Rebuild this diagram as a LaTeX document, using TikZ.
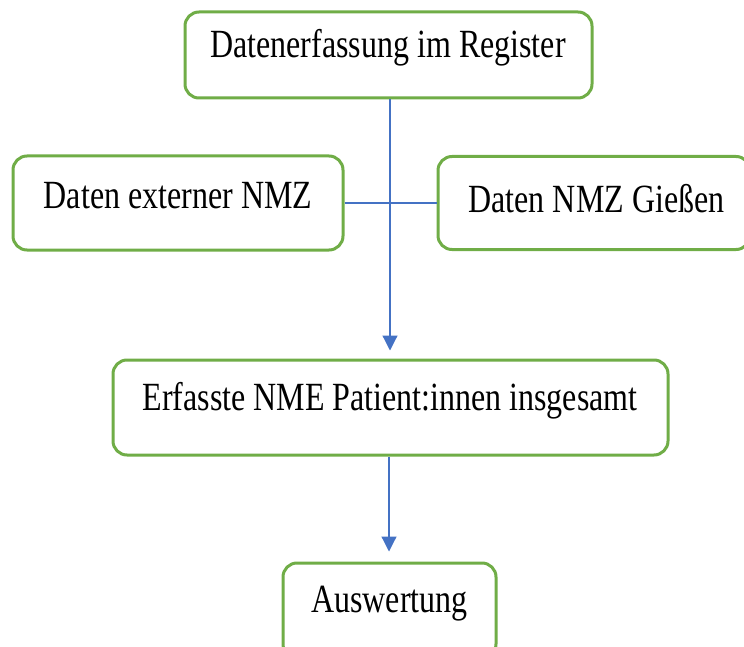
\documentclass[tikz,border=0pt]{standalone}
\usepackage{fontspec}
\setmainfont[FakeStretch=0.8]{Liberation Serif}
\usetikzlibrary{arrows.meta}
\definecolor{boxgreen}{HTML}{70AD47}
\definecolor{lineblue}{HTML}{4472C4}
\begin{document}
\begin{tikzpicture}[x=1pt,y=-1pt,
  box/.style={draw=boxgreen, line width=3pt, rounded corners=14pt, fill=white, inner sep=0pt},
  txt/.style={anchor=base, inner sep=0pt, font=\fontsize{40}{44}\selectfont},
  conn/.style={draw=lineblue, line width=1.2pt},
  arr/.style={conn, -{Triangle[length=15pt,width=15pt]}}]
\useasboundingbox (0,0) rectangle (744,647);
\node[box, minimum width=407pt, minimum height=86pt] (b1) at (388.5,55) {};
\node[box, minimum width=330pt, minimum height=94pt] (b2) at (178,203) {};
\node[box, minimum width=312pt, minimum height=93pt] (b3) at (594,203) {};
\node[box, minimum width=555pt, minimum height=95pt] (b4) at (390.5,407.5) {};
\node[box, minimum width=213pt, minimum height=95pt] (b5) at (389.5,610.5) {};
\node[txt] (t1) at (388,58) {Datenerfassung im Register};
\node[txt] (t2) at (178,209) {Daten externer NMZ};
\node[txt] (t3) at (596.5,213) {Daten NMZ Gießen};
\node[txt] (t4) at (390,410) {Erfasste NME Patient:innen insgesamt};
\node[txt] (t5) at (389.5,612) {Auswertung};
\draw[conn] (b2.east) -- (b3.west);
\draw[arr, shorten >=8pt] ([xshift=1.5pt]b1.south) -- ([xshift=1.5pt]b1.south |- b4.north);
\draw[arr, shorten >=10pt] ([xshift=-1.5pt]b4.south) -- ([xshift=-1.5pt]b4.south |- b5.north);
\end{tikzpicture}
\end{document}
